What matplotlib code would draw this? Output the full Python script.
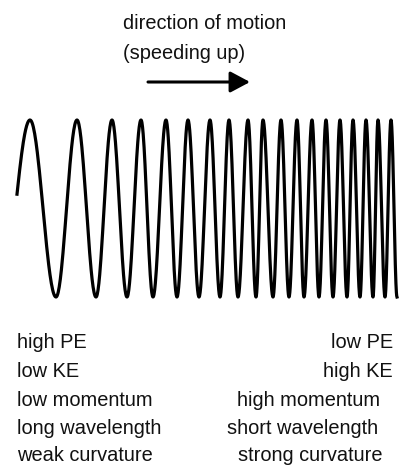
import numpy as np
import matplotlib
matplotlib.use("Agg")
import matplotlib.pyplot as plt

plt.rcParams['font.family'] = ['Liberation Sans', 'DejaVu Sans']

# wave extrema (pixel coords, y down)
peak_x = [30, 77, 112, 141, 166, 188, 210, 229, 248, 263, 281, 297, 312,
          326, 340, 353, 366, 378, 391]
trough_x = [1, 56, 96, 127, 153, 177, 199, 220, 238, 256, 273, 289, 304,
            319, 333, 347, 360, 373, 385, 397]
peak_y = 120
trough_y = 297
start_x = 17

left_labels = ["high PE", "low KE", "low momentum", "long wavelength", "weak curvature"]
right_labels = ["low PE", "high KE", "high momentum", "short wavelength", "strong curvature"]
right_x = [393, 393, 380, 378, 383]
row_y = [348, 377, 406, 434, 461]

title_lines = ["direction of motion", "(speeding up)"]
title_y = [29, 59]

fig = plt.figure(figsize=(4, 4.66), dpi=100)
ax = fig.add_axes([0, 0, 1, 1])
ax.set_xlim(0, 400)
ax.set_ylim(466, 0)
ax.axis('off')

# join extrema in order, half a cosine between each pair
ext = sorted([(x, peak_y) for x in peak_x] + [(x, trough_y) for x in trough_x])
mid = (peak_y + trough_y) / 2
xs, ys = [], []
for (x0, y0), (x1, y1) in zip(ext[:-1], ext[1:]):
    t0 = 0.0
    if x0 < start_x < x1:
        t0 = (start_x - x0) / (x1 - x0)
    elif x1 <= start_x:
        continue
    t = np.linspace(t0, 1, 40)
    xs.append(x0 + t * (x1 - x0))
    ys.append(mid + (y0 - mid) * np.cos(np.pi * t))
xs = np.concatenate(xs)
ys = np.concatenate(ys)
ax.plot(xs, ys, color='black', lw=2.3, solid_joinstyle='round')

fs = 14.4
for s, y in zip(title_lines, title_y):
    ax.text(123, y, s, fontsize=fs, ha='left', va='baseline', color='#111111')

ax.annotate("", xy=(250, 82), xytext=(148, 82),
            arrowprops=dict(arrowstyle="-|>,head_length=0.6,head_width=0.32",
                            mutation_scale=20, lw=2.2, color='black',
                            shrinkA=0, shrinkB=0))

for s, y in zip(left_labels, row_y):
    ax.text(17, y, s, fontsize=fs, ha='left', va='baseline', color='#111111')
for s, x, y in zip(right_labels, right_x, row_y):
    ax.text(x, y, s, fontsize=fs, ha='right', va='baseline', color='#111111')

fig.savefig("out.png", dpi=100)
